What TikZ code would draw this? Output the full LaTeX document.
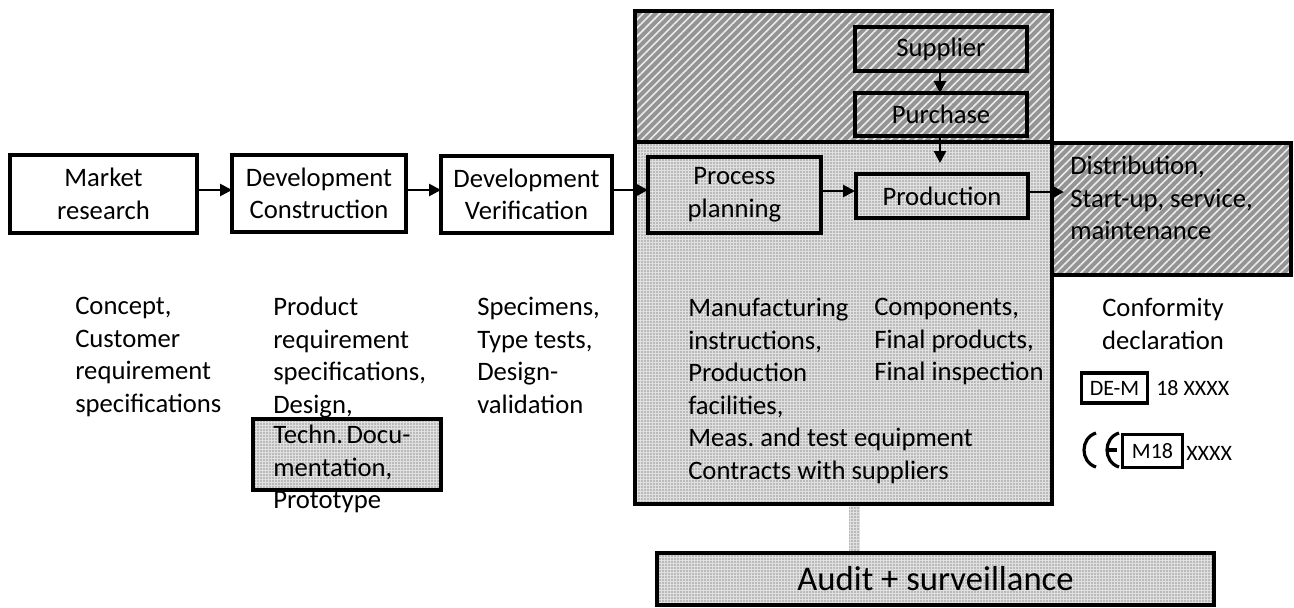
\documentclass[tikz,border=0pt]{standalone}
\usepackage{fontspec}
\setmainfont{Carlito}
\usetikzlibrary{patterns.meta,arrows.meta}
\tikzset{
 x=0.75pt,y=-0.75pt,
 txt/.style={font=\fontsize{20}{24.4}\selectfont\frenchspacing},
 halftone/.style={preaction={fill=black!12},pattern={Dots[distance=2.25pt,radius=0.42pt]},pattern color=black!75},
 boxw/.style={draw=black,line width=3pt,fill=white,align=center,inner sep=0pt,outer sep=0pt,txt},
 boxg/.style={draw=black,line width=3pt,align=center,inner sep=0pt,outer sep=0pt,txt,halftone},
 hatched/.style={draw=black,line width=3pt,inner sep=0pt,outer sep=0pt,align=center,txt,
   preaction={fill=black!42},pattern={Lines[angle=45,distance=4.4pt,line width=1.2pt]},pattern color=white!92!black},
 panelg/.style={draw=black,line width=3pt,inner sep=0pt,outer sep=0pt,halftone},
 lbl/.style={txt,align=left,inner sep=0pt,anchor=north west},
 ctr/.style={txt,align=center,inner sep=0pt},
 small/.style={font=\fontsize{16.5}{20}\selectfont,inner sep=0pt},
 tag/.style={draw=black,line width=2.6pt,inner sep=0pt,outer sep=0pt,small},
 arr/.style={draw=black,line width=2pt,-{Triangle[length=9pt,width=9pt]}},
 wh/.style n args={2}{minimum width=#1*0.75pt,minimum height=#2*0.75pt},
}
\begin{document}
\begin{tikzpicture}
\useasboundingbox (0,0) rectangle (1294,607);
\path[halftone] (849,505) rectangle (860,551);
\node[hatched,wh={417}{131}] (upper) at (843,76.5) {};
\node[hatched,wh={240}{132}] (distbox) at (1171,209) {};
\node[panelg,wh={417}{362}] (lower) at (843,323) {};
\node[boxg,wh={557}{52},font=\fontsize{26}{31}\selectfont] (audit) at (935.5,578.5) {Audit + surveillance};
\node[boxw,wh={187}{78}] (market) at (103.5,194) {\raisebox{-1pt}{\parbox{130pt}{\centering Market\\research}}};
\node[boxw,wh={174}{77}] (constr) at (319,193.5) {\raisebox{-3pt}{\parbox{125pt}{\centering Development\\Construction}}};
\node[boxw,wh={171}{77}] (verif) at (526.5,194.5) {\raisebox{-1.5pt}{\parbox{125pt}{\centering Development\\Verification}}};
\node[boxg,wh={173}{76}] (plan) at (734.5,195) {\raisebox{-3pt}{\parbox{125pt}{\centering Process\\planning}}};
\node[boxg,wh={172}{44}] (prod) at (942,196) {Production};
\node[hatched,wh={172}{44}] (supplier) at (941,49) {Supplier};
\node[hatched,wh={172}{43}] (purchase) at (941,114.5) {Purchase};
\coordinate (flow) at (0,190);
\coordinate (prodtop) at (940,163);
\coordinate (distin) at (1064,192);
\draw[arr] (market.east |- flow) -- (constr.west |- flow);
\draw[arr] (constr.east |- flow) -- (verif.west |- flow);
\draw[arr] (verif.east |- flow) -- (plan.west |- flow);
\draw[arr] (plan.east |- prod.west) ++(0,-5) -- ++(34,0);
\draw[arr] (prod.east |- distin) -- (distin);
\draw[arr] (supplier.south -| prodtop) -- (purchase.north -| prodtop);
\draw[arr] (purchase.south -| prodtop) -- (prodtop);
\node[lbl] (dist) at (1070,156) {Distribution,\\Start-up, service,\\maintenance};
\node[lbl] (c1) at (75,297) {Concept,\\Customer\\requirement\\specifications};
\node[lbl] (c2) at (273,297) {Product\\requirement\\specifications,\\Design,};
\node[panelg,wh={188}{71}] (techn) at (347,454.5) {};
\node[lbl] (c2b) at (273,425) {Techn.\kern-2pt{} Docu-\\mentation,\\Prototype};
\node[lbl] (c3) at (477,297) {Specimens,\\Type tests,\\Design-\\validation};
\node[lbl] (c4) at (688,298) {Manufacturing\\instructions,\\Production\\facilities,\\Meas. and test equipment\\Contracts with suppliers};
\node[lbl] (c5) at (874,298) {Components,\\Final products,\\Final inspection};
\node[ctr] (conf) at (1163,324) {Conformity\\declaration};
\node[tag,wh={66}{30}] (dem) at (1114.5,388) {DE-M};
\node[small,anchor=west] (n18) at (1156,388) {18 XXXX};
\node[tag,wh={60}{33}] (m18) at (1152.5,451) {M18};
\node[small,anchor=west] (xx) at (1186,453) {XXXX};
\draw[line width=2.4pt] (1096,433) .. controls (1080,438) and (1080,462) .. (1096,467);
\draw[line width=2.4pt] (1119,433) .. controls (1103,438) and (1103,462) .. (1119,467);
\draw[line width=2.4pt] (1107,450) -- (1117,450);
\end{tikzpicture}
\end{document}
